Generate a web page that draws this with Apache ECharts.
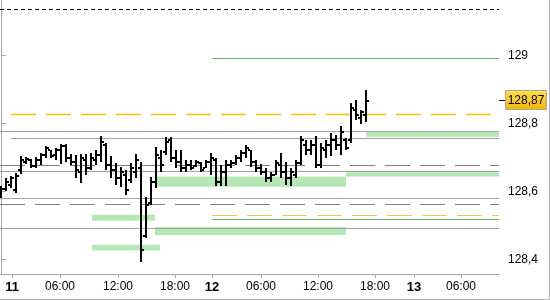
<!DOCTYPE html>
<html><head><meta charset="utf-8">
<script src="https://cdn.jsdelivr.net/npm/echarts@6/dist/echarts.min.js"></script>
<style>html,body{margin:0;padding:0;background:#fff}#c{width:550px;height:300px}</style>
</head><body><div id="c"></div>
<script>
// ---- data (bar index = slot on the trading-time axis) ----
const barOpen  = [128.590,128.607,128.619,128.604,128.663,128.687,128.693,128.675,128.693,128.707,128.722,128.707,128.722,128.734,128.698,128.687,128.657,128.693,128.669,128.693,
                  128.707,128.737,128.678,128.663,128.640,128.648,128.634,128.657,128.669,128.469,128.566,128.628,128.698,128.716,128.751,128.698,128.687,128.669,128.678,128.675,
                  128.684,128.669,128.687,128.693,128.628,128.657,128.678,128.684,128.698,128.713,128.722,128.687,128.669,128.657,128.640,128.648,128.678,128.657,128.640,128.648,
                  128.684,128.737,128.722,128.737,128.678,128.722,128.737,128.751,128.737,128.751,128.751,128.840,128.816,128.825];
const barHigh  = [128.616,128.640,128.646,128.654,128.704,128.701,128.696,128.701,128.713,128.734,128.722,128.728,128.740,128.740,128.710,128.707,128.710,128.710,128.713,128.722,
                  128.763,128.743,128.704,128.684,128.672,128.663,128.684,128.710,128.687,128.584,128.643,128.731,128.722,128.760,128.760,128.722,128.722,128.693,128.693,128.693,
                  128.687,128.693,128.713,128.698,128.678,128.693,128.693,128.707,128.722,128.737,128.722,128.693,128.681,128.669,128.657,128.693,128.713,128.687,128.669,128.693,
                  128.763,128.751,128.751,128.763,128.743,128.751,128.772,128.766,128.793,128.757,128.860,128.869,128.840,128.899];
const barLow   = [128.581,128.601,128.610,128.596,128.651,128.681,128.669,128.669,128.678,128.698,128.698,128.693,128.681,128.687,128.678,128.640,128.625,128.648,128.663,128.678,
                  128.687,128.663,128.640,128.619,128.613,128.590,128.625,128.640,128.393,128.463,128.560,128.610,128.657,128.707,128.687,128.669,128.657,128.657,128.663,128.672,
                  128.657,128.669,128.648,128.616,128.616,128.616,128.669,128.678,128.687,128.698,128.672,128.657,128.648,128.628,128.628,128.648,128.640,128.619,128.616,128.640,
                  128.678,128.707,128.707,128.669,128.669,128.698,128.704,128.722,128.707,128.722,128.743,128.810,128.799,128.804];
const barClose = [128.607,128.628,128.640,128.646,128.693,128.696,128.675,128.693,128.707,128.728,128.704,128.722,128.734,128.698,128.687,128.663,128.698,128.669,128.698,128.707,
                  128.746,128.678,128.663,128.640,128.657,128.604,128.669,128.693,128.428,128.560,128.628,128.707,128.678,128.746,128.698,128.687,128.669,128.678,128.669,128.687,
                  128.663,128.687,128.698,128.628,128.657,128.678,128.684,128.698,128.713,128.728,128.687,128.669,128.657,128.640,128.648,128.684,128.657,128.640,128.657,128.684,
                  128.751,128.722,128.737,128.678,128.728,128.737,128.751,128.737,128.775,128.728,128.846,128.825,128.834,128.866];
const lastPrice = 128.87;

// trading-time axis (in bar slots) and its labels
const xMin = -0.2, xMax = 99.6;
const timeTickSlots  = [2.2, 11.8, 23.4, 34.8, 42.2, 52, 63.4, 74.8, 82.6, 92];
const timeTickLabels = ['11', '06:00', '12:00', '18:00', '12', '06:00', '12:00', '18:00', '13', '06:00'];
const dayLabels = ['11', '12', '13'];

// price axis
const yMin = 128.357, yMax = 129.163;
const priceTicks = [128.4, 128.6, 128.8, 129.0];

// horizontal levels (value, first slot)
const grayLevels      = [128.778, 128.756, 128.659, 128.580, 128.492];
const grayLevelFrom   = [xMin,    2,       xMin,    xMin,    xMin];
const grayDashLevels  = [128.676, 128.562];
const orangeLevels    = [128.827, 128.531];
const orangeLevelFrom = [2,       42.2];
const greenLevels     = [128.992, 128.518];
const greenLevelFrom  = [42.2,    42.2];
const blackDotLevels  = [129.135];

// zones
const zoneFrom = [73,      69,      31,      18.2,    30.8,    18.2];
const zoneTo   = [xMax,    xMax,    69,      30.8,    69,      31.8];
const zoneLow  = [128.761, 128.644, 128.614, 128.514, 128.472, 128.426];
const zoneHigh = [128.776, 128.656, 128.644, 128.531, 128.495, 128.443];

// ---- build ----
const ohlc = barOpen.map((o, i) => [i, o, barHigh[i], barLow[i], barClose[i]]);
function seg(levels, from, style) {
  return levels.map((v, i) => [
    { coord: [from ? from[i] : xMin, v], lineStyle: style },
    { coord: [xMax, v] }
  ]);
}
const lineData = [].concat(
  seg(grayLevels, grayLevelFrom, { color: '#a3a3a3', width: 1, type: 'solid' }),
  seg(grayDashLevels, null, { color: '#808080', width: 1, type: [25, 10] }),
  seg([orangeLevels[0]], [orangeLevelFrom[0]], { color: '#ffc000', width: 1.3, type: [25, 10] }),
  seg([orangeLevels[1]], [orangeLevelFrom[1]], { color: '#f6c24a', width: 1, type: [25, 10] }),
  seg(greenLevels, greenLevelFrom, { color: '#5cbf5c', width: 1, type: 'solid' }),
  seg(blackDotLevels, null, { color: '#000', width: 1, type: [4, 3] })
);
const areaData = zoneFrom.map((f, i) => [
  { coord: [f, zoneHigh[i]] },
  { coord: [zoneTo[i], zoneLow[i]] }
]);

const font = 'Liberation Sans';
const chart = echarts.init(document.getElementById('c'), null, { renderer: 'canvas' });
chart.setOption({
  animation: false,
  backgroundColor: '#fff',
  grid: { left: 0, right: 51, top: 0, bottom: 26, containLabel: false },
  xAxis: {
    type: 'value', min: xMin, max: xMax, position: 'bottom',
    axisLine: { show: true, lineStyle: { color: '#a8a8a8' } },
    axisTick: { show: true, customValues: timeTickSlots, length: 4, lineStyle: { color: '#a8a8a8' } },
    axisLabel: {
      customValues: timeTickSlots, margin: 7, color: '#000', fontFamily: font, fontSize: 12,
      formatter: v => {
        const i = timeTickSlots.indexOf(v);
        const t = i >= 0 ? timeTickLabels[i] : '';
        return dayLabels.includes(t) ? '{b|' + t + '}' : t;
      },
      rich: { b: { fontWeight: 'bold', fontSize: 13, fontFamily: font, color: '#000' } }
    },
    splitLine: { show: false }
  },
  yAxis: {
    type: 'value', position: 'right', min: yMin, max: yMax, scale: true,
    axisLine: { show: true, lineStyle: { color: '#a8a8a8' } },
    axisTick: { show: true, customValues: priceTicks, length: 5, lineStyle: { color: '#a8a8a8' } },
    axisLabel: {
      customValues: priceTicks, margin: 9, color: '#000', fontFamily: font, fontSize: 12,
      formatter: v => String(Math.round(v * 10) / 10).replace('.', ',')
    },
    splitLine: { show: false }
  },
  graphic: [
    { type: 'line', shape: { x1: 549.5, y1: 0, x2: 549.5, y2: 300 }, style: { stroke: '#b4b4b4', lineWidth: 1 } },
    { type: 'line', shape: { x1: 0, y1: 299.5, x2: 550, y2: 299.5 }, style: { stroke: '#b4b4b4', lineWidth: 1 } }
  ],
  series: [
    {
      type: 'line', data: [], z: 1, silent: true,
      markArea: { silent: true, itemStyle: { color: '#b5e8b5' }, data: areaData },
      markLine: { silent: true, symbol: 'none', label: { show: false }, emphasis: { disabled: true }, data: lineData }
    },
    {
      type: 'custom', z: 5, silent: true, clip: false,
      data: ohlc,
      encode: { x: 0, y: [1, 2, 3, 4] },
      renderItem: (params, api) => {
        const x = api.value(0);
        const pH = api.coord([x, api.value(2)]);
        const pL = api.coord([x, api.value(3)]);
        const pO = api.coord([x, api.value(1)]);
        const pC = api.coord([x, api.value(4)]);
        const cx = Math.round(pH[0]);
        const children = [
          { type: 'rect', shape: { x: cx - 1, y: Math.round(pH[1]), width: 2, height: Math.max(1, Math.round(pL[1]) - Math.round(pH[1])) }, style: { fill: '#000' } },
          { type: 'rect', shape: { x: cx - 3, y: Math.round(pO[1]) - 1, width: 2, height: 2 }, style: { fill: '#000' } },
          { type: 'rect', shape: { x: cx + 1, y: Math.round(pC[1]) - 1, width: 2, height: 2 }, style: { fill: '#000' } }
        ];
        if (params.dataIndex === ohlc.length - 1) {
          const p = api.coord([xMax, lastPrice]);
          const py = Math.round(p[1]);
          children.push({ type: 'line', shape: { x1: p[0], y1: py + 0.5, x2: p[0] + 6, y2: py + 0.5 }, style: { stroke: '#000', lineWidth: 1 } });
          children.push({
            type: 'rect', shape: { x: p[0] + 6.5, y: py - 9.5, width: 41, height: 19 },
            style: {
              fill: new echarts.graphic.LinearGradient(0, 0, 0, 1, [{ offset: 0, color: '#ffe14d' }, { offset: 1, color: '#f2b600' }]),
              stroke: '#a8a8a8', lineWidth: 1
            }
          });
          children.push({
            type: 'text', x: p[0] + 27, y: py + 1,
            style: { text: String(lastPrice).replace('.', ','), fill: '#000', font: '12px "Liberation Sans"', align: 'center', verticalAlign: 'middle' }
          });
        }
        return { type: 'group', children };
      }
    }
  ]
});
</script>
</body></html>
